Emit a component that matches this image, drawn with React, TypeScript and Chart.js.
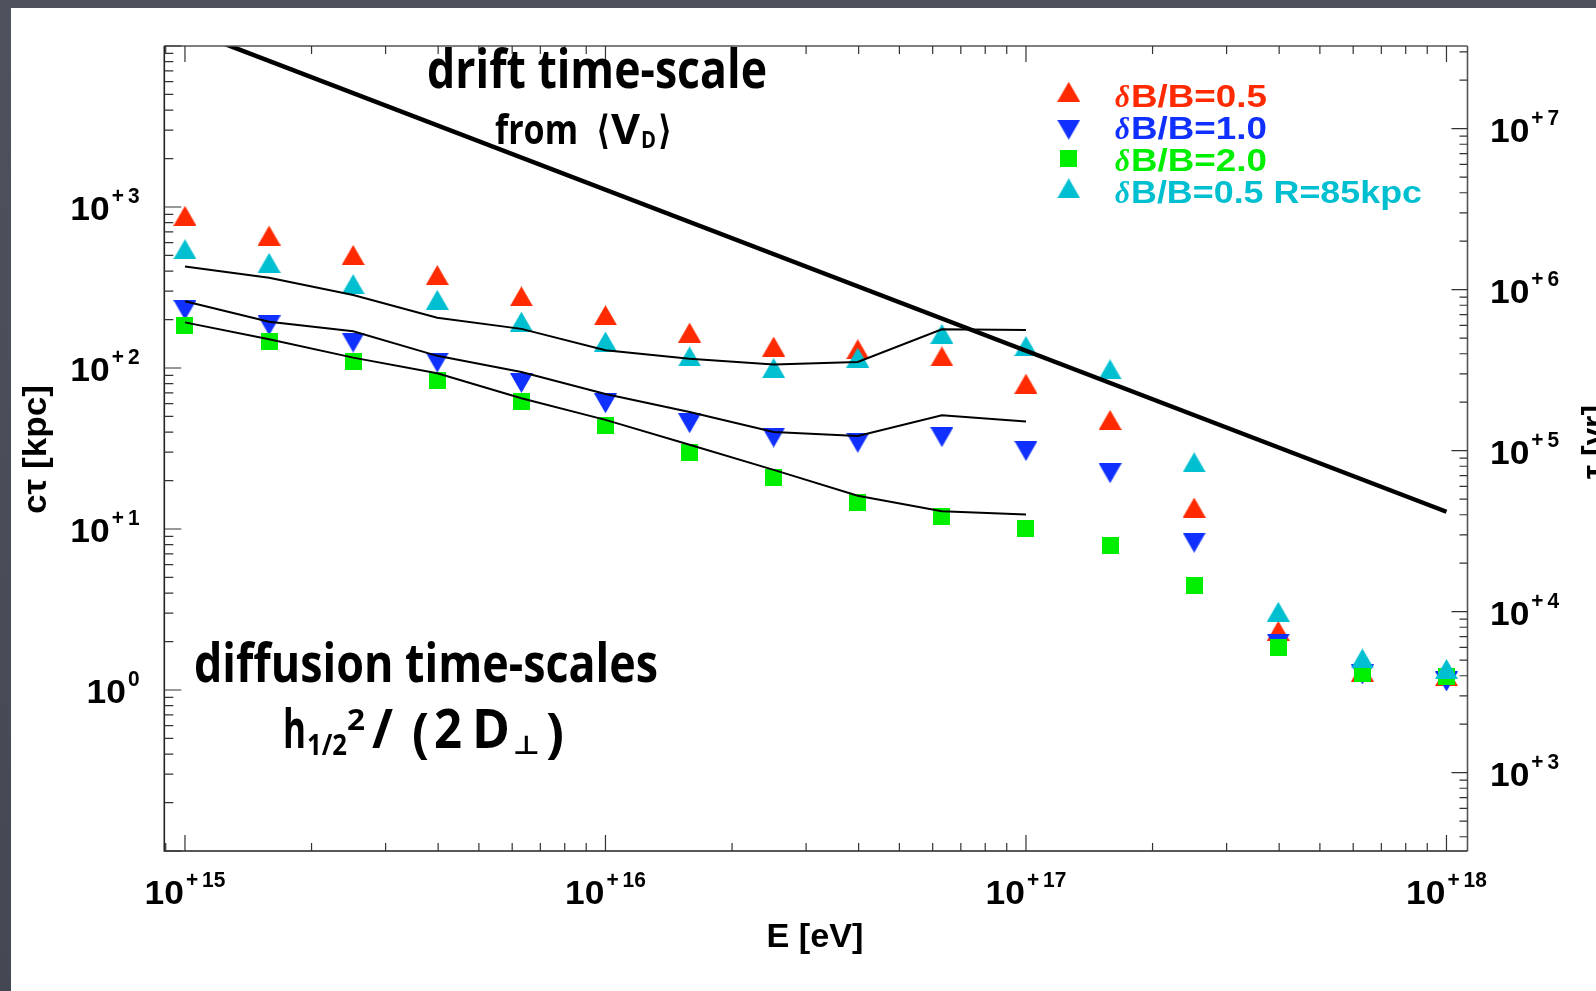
import React, { useEffect, useRef } from 'react';
import { Chart, registerables } from 'chart.js';

Chart.register(...registerables);

// ---------------- data ----------------
const energies = [
  1e15, 1.585e15, 2.512e15, 3.981e15, 6.31e15,
  1e16, 1.585e16, 2.512e16, 3.981e16, 6.31e16,
  1e17, 1.585e17, 2.512e17, 3.981e17, 6.31e17, 1e18,
];
// c*tau [kpc]
const ctauDB05 = [882, 665, 504, 378, 279, 213, 166, 136, 131, 118, 80.0, 47.6, 13.6, 2.33, 1.30, 1.22];
const ctauDB10 = [229, 184, 144, 108, 80.7, 60.4, 45.4, 37.0, 34.3, 37.2, 30.5, 22.2, 8.22, 1.94, 1.25, 1.13];
const ctauDB20 = [184, 147, 110, 84, 61.8, 44.2, 30.0, 20.9, 14.7, 12.0, 10.1, 7.85, 4.43, 1.83, 1.27, 1.21];
const ctauDB05R85 = [547, 450, 332, 265, 194, 146, 118, 100, 116, 163, 137, 98.2, 26.0, 3.06, 1.57, 1.35];
// thin analytic curves (first 11 energies)
const curveUpper = [427, 363, 284, 205, 175, 129, 114, 105, 109, 174, 172];
const curveMiddle = [260, 194, 169, 119, 94.4, 69, 53.3, 40.1, 37.8, 50.9, 46.5];
const curveLower = [192, 151, 116, 92.7, 64.9, 47.6, 33.4, 23.3, 16.1, 12.9, 12.3];
// drift time-scale line
const driftE = [1e15, 1e18];
const driftCT = [12800, 12.8];

// axes
const xMin = 8.93e14;
const xMax = 1.122e18;
const yMin = 0.1;
const yMax = 1e4;
const kpcToYr = 3261.56;
const xLabelExps = [15, 16, 17, 18];
const yLabelExps = [0, 1, 2, 3];
const yrLabelExps = [3, 4, 5, 6, 7];

const legendLabels = ['B/B=0.5', 'B/B=1.0', 'B/B=2.0', 'B/B=0.5 R=85kpc'];
const colRed = '#ff2a00';
const colBlue = '#1030ff';
const colGreen = '#00ee00';
const colCyan = '#00bfd0';

// ---------------- helpers ----------------
function makeMarker(shape: 'up' | 'down' | 'square', color: string): HTMLCanvasElement {
  const c = document.createElement('canvas');
  const w = shape === 'square' ? 17 : 23;
  const h = shape === 'square' ? 17 : 20;
  c.width = w;
  c.height = h;
  const g = c.getContext('2d')!;
  g.fillStyle = color;
  g.beginPath();
  if (shape === 'up') {
    g.moveTo(0, h); g.lineTo(w, h); g.lineTo(w / 2, 0);
  } else if (shape === 'down') {
    g.moveTo(0, 0); g.lineTo(w, 0); g.lineTo(w / 2, h);
  } else {
    g.rect(0, 0, w, h);
  }
  g.closePath();
  g.fill();
  return c;
}

function textFit(ctx: CanvasRenderingContext2D, text: string, x: number, y: number, font: string,
  opts: { width?: number; sx?: number; align?: 'left' | 'right' | 'center'; color?: string } = {}) {
  ctx.save();
  ctx.font = font;
  ctx.fillStyle = opts.color || '#000';
  ctx.textAlign = 'left';
  ctx.textBaseline = 'alphabetic';
  const w = ctx.measureText(text).width;
  const s = opts.width ? opts.width / w : (opts.sx ?? 1);
  const tw = w * s;
  const al = opts.align || 'left';
  const x0 = al === 'left' ? x : al === 'right' ? x - tw : x - tw / 2;
  ctx.translate(x0, y);
  ctx.scale(s, 1);
  ctx.fillText(text, 0, 0);
  ctx.restore();
  return tw;
}

const AX_FONT = "bold 34px 'Liberation Sans', Arial, sans-serif";
const SUP_FONT = "bold 22px 'Liberation Sans', Arial, sans-serif";
const AX_SX = 1.04;
const SUP_SX = 0.95;

function drawPow(ctx: CanvasRenderingContext2D, exp: number, x: number, yBase: number, align: 'left' | 'right' | 'center') {
  ctx.save();
  ctx.font = AX_FONT;
  const w10 = ctx.measureText('10').width * AX_SX;
  ctx.font = SUP_FONT;
  const sign = exp === 0 ? '' : exp > 0 ? '+' : '-';
  const num = String(Math.abs(exp));
  const wSign = sign ? ctx.measureText(sign).width * SUP_SX : 0;
  const wNum = ctx.measureText(num).width * SUP_SX;
  const gap1 = 2;
  const gap2 = sign ? 4 : 0;
  const total = w10 + gap1 + wSign + gap2 + wNum;
  ctx.restore();
  let x0 = align === 'left' ? x : align === 'right' ? x - total : x - total / 2;
  textFit(ctx, '10', x0, yBase, AX_FONT, { sx: AX_SX });
  x0 += w10 + gap1;
  if (sign) {
    textFit(ctx, sign, x0, yBase - 17, SUP_FONT, { sx: SUP_SX });
    x0 += wSign + gap2;
  }
  textFit(ctx, num, x0, yBase - 17, SUP_FONT, { sx: SUP_SX });
}

function logTicks(min: number, max: number) {
  const out: { v: number; major: boolean }[] = [];
  const d0 = Math.floor(Math.log10(min));
  const d1 = Math.ceil(Math.log10(max));
  for (let d = d0; d <= d1; d++) {
    for (let m = 1; m <= 9; m++) {
      const v = m * Math.pow(10, d);
      if (v >= min * 0.9999 && v <= max * 1.0001) out.push({ v, major: m === 1 });
    }
  }
  return out;
}

function pts(vals: number[]) {
  return vals.map((y, i) => ({ x: energies[i], y }));
}

// ---------------- component ----------------
export default function App() {
  const ref = useRef<HTMLCanvasElement>(null);

  useEffect(() => {
    document.body.style.margin = '0';
    document.body.style.overflow = 'hidden';
    const mUpRed = makeMarker('up', colRed);
    const mDownBlue = makeMarker('down', colBlue);
    const mSqGreen = makeMarker('square', colGreen);
    const mUpCyan = makeMarker('up', colCyan);

    const decor = {
      id: 'decor',
      beforeDraw(chart: any) {
        const ctx: CanvasRenderingContext2D = chart.ctx;
        ctx.save();
        const g = ctx.createLinearGradient(0, 0, 0, chart.height);
        g.addColorStop(0, '#4d525d');
        g.addColorStop(1, '#444852');
        ctx.fillStyle = g;
        ctx.fillRect(0, 0, chart.width, chart.height);
        ctx.fillStyle = '#ffffff';
        ctx.fillRect(11, 8, chart.width - 11, chart.height - 8);
        ctx.restore();
      },
      afterDraw(chart: any) {
        const ctx: CanvasRenderingContext2D = chart.ctx;
        const a = chart.chartArea;
        const sx = chart.scales.x;
        const sy = chart.scales.y;
        const sy2 = chart.scales.y2;

        // frame
        ctx.save();
        ctx.lineWidth = 1.6;
        ctx.strokeStyle = '#555';
        ctx.beginPath();
        ctx.moveTo(a.left, a.top); ctx.lineTo(a.right, a.top);
        ctx.moveTo(a.right, a.top); ctx.lineTo(a.right, a.bottom);
        ctx.stroke();
        ctx.strokeStyle = '#222';
        ctx.beginPath();
        ctx.moveTo(a.left, a.top); ctx.lineTo(a.left, a.bottom); ctx.lineTo(a.right, a.bottom);
        ctx.stroke();

        // ticks
        ctx.lineWidth = 1.2;
        ctx.strokeStyle = '#333';
        ctx.beginPath();
        for (const t of logTicks(xMin, xMax)) {
          const px = sx.getPixelForValue(t.v);
          const L = t.major ? 16 : 8;
          ctx.moveTo(px, a.bottom); ctx.lineTo(px, a.bottom - L);
          ctx.moveTo(px, a.top); ctx.lineTo(px, a.top + L);
        }
        for (const t of logTicks(yMin, yMax)) {
          const py = sy.getPixelForValue(t.v);
          const L = t.major ? 17 : 9;
          ctx.moveTo(a.left, py); ctx.lineTo(a.left + L, py);
        }
        for (const t of logTicks(yMin * kpcToYr, yMax * kpcToYr)) {
          const py = sy2.getPixelForValue(t.v);
          const L = t.major ? 16 : 8;
          ctx.moveTo(a.right, py); ctx.lineTo(a.right - L, py);
        }
        ctx.stroke();
        ctx.restore();

        // tick labels
        for (const e of xLabelExps) {
          drawPow(ctx, e, sx.getPixelForValue(Math.pow(10, e)), 904, 'center');
        }
        for (const e of yLabelExps) {
          drawPow(ctx, e, 139.5, sy.getPixelForValue(Math.pow(10, e)) + 13, 'right');
        }
        for (const e of yrLabelExps) {
          drawPow(ctx, e, 1490, sy2.getPixelForValue(Math.pow(10, e)) + 13, 'left');
        }

        // axis titles
        const TITLE_FONT = "bold 33px 'Liberation Sans', Arial, sans-serif";
        textFit(ctx, 'E [eV]', 815, 947, TITLE_FONT, { width: 97, align: 'center' });
        ctx.save();
        ctx.translate(46, 449.5);
        ctx.rotate(-Math.PI / 2);
        textFit(ctx, 'c\u03c4 [kpc]', 0, 0, TITLE_FONT, { width: 129, align: 'center' });
        ctx.restore();
        ctx.save();
        ctx.translate(1605, 442);
        ctx.rotate(-Math.PI / 2);
        textFit(ctx, '\u03c4 [yr]', 0, 0, TITLE_FONT, { width: 74, align: 'center' });
        ctx.restore();

        // legend
        const legMarkers = [mUpRed, mDownBlue, mSqGreen, mUpCyan];
        const legColors = [colRed, colBlue, colGreen, colCyan];
        const markerY = [91.8, 129.7, 158.7, 188.3];
        const textBase = [107, 139, 170.5, 202.5];
        const textEnd = [1267, 1267, 1267, 1422];
        const LEG_FONT = "bold 32px 'Liberation Sans', Arial, sans-serif";
        const DELTA_FONT = "italic bold 32px 'Liberation Serif', 'DejaVu Serif', serif";
        for (let i = 0; i < 4; i++) {
          const m = legMarkers[i];
          ctx.drawImage(m, 1068.7 - m.width / 2, markerY[i] - m.height / 2);
          textFit(ctx, '\u03b4', 1115, textBase[i], DELTA_FONT, { width: 15, color: legColors[i] });
          textFit(ctx, legendLabels[i], 1131, textBase[i], LEG_FONT, { width: textEnd[i] - 1131, color: legColors[i] });
        }

        // annotations (chalk-like text)
        const BIG = "700 53px 'Open Sans', 'Noto Sans', sans-serif";
        const MED = "700 41px 'Open Sans', 'Noto Sans', sans-serif";
        const SUB = "700 24px 'Open Sans', 'Noto Sans', sans-serif";
        const SUB2 = "700 28px 'Open Sans', 'Noto Sans', sans-serif";
        const BRK = "bold 40px 'DejaVu Sans', sans-serif";
        textFit(ctx, 'drift time-scale', 427, 88, BIG, { width: 340 });
        textFit(ctx, 'from', 495, 144, MED, { width: 83 });
        textFit(ctx, '\u27e8', 596, 144, BRK, { width: 14 });
        textFit(ctx, 'V', 611, 144, MED, { width: 29 });
        textFit(ctx, 'D', 641, 148, SUB, { width: 15 });
        textFit(ctx, '\u27e9', 658, 144, BRK, { width: 14 });

        textFit(ctx, 'diffusion time-scales', 194, 682, BIG, { width: 464 });
        textFit(ctx, 'h', 283, 748, BIG, { width: 23 });
        textFit(ctx, '1/2', 307, 755, SUB2, { width: 40 });
        textFit(ctx, '2', 347, 730, SUB2, { width: 18 });
        textFit(ctx, '/', 372, 748, BIG, { width: 21 });
        textFit(ctx, '(', 412, 752, BIG, { width: 17 });
        textFit(ctx, '2', 434, 748, BIG, { width: 28 });
        textFit(ctx, 'D', 472, 748, BIG, { width: 38 });
        textFit(ctx, '\u22a5', 513, 754, "bold 26px 'DejaVu Sans', sans-serif", { width: 27 });
        textFit(ctx, ')', 546, 752, BIG, { width: 18 });
      },
    };

    const markerDs = (label: string, vals: number[], img: HTMLCanvasElement, order: number) => ({
      label,
      data: pts(vals),
      showLine: false,
      pointStyle: img,
      pointRadius: 10,
      pointHoverRadius: 10,
      borderColor: 'rgba(0,0,0,0)',
      backgroundColor: 'rgba(0,0,0,0)',
      order,
    });
    const lineDs = (label: string, data: { x: number; y: number }[], width: number) => ({
      label,
      data,
      borderColor: '#000',
      borderWidth: width,
      pointRadius: 0,
      fill: false,
      tension: 0,
      order: 0,
    });

    const chart = new Chart(ref.current!, {
      type: 'line',
      data: {
        datasets: [
          markerDs('dB/B=0.5', ctauDB05, mUpRed, 4),
          markerDs('dB/B=1.0', ctauDB10, mDownBlue, 3),
          markerDs('dB/B=2.0', ctauDB20, mSqGreen, 2),
          markerDs('dB/B=0.5 R=85kpc', ctauDB05R85, mUpCyan, 1),
          lineDs('upper', pts(curveUpper), 2),
          lineDs('middle', pts(curveMiddle), 2),
          lineDs('lower', pts(curveLower), 2),
          lineDs('drift', driftE.map((x, i) => ({ x, y: driftCT[i] })), 4.5),
        ] as any,
      },
      options: {
        animation: false,
        responsive: false,
        maintainAspectRatio: false,
        events: [],
        layout: { padding: { top: 46, left: 0, right: 0, bottom: 0 } },
        plugins: { legend: { display: false }, tooltip: { enabled: false }, title: { display: false } },
        scales: {
          x: {
            type: 'logarithmic', position: 'bottom', min: xMin, max: xMax,
            grid: { display: false }, border: { display: false }, ticks: { display: false },
            afterFit: (s: any) => { s.height = 140; },
          },
          y: {
            type: 'logarithmic', position: 'left', min: yMin, max: yMax,
            grid: { display: false }, border: { display: false }, ticks: { display: false },
            afterFit: (s: any) => { s.width = 164.3; },
          },
          y2: {
            type: 'logarithmic', position: 'right', min: yMin * kpcToYr, max: yMax * kpcToYr,
            grid: { display: false }, border: { display: false }, ticks: { display: false },
            afterFit: (s: any) => { s.width = 128.5; },
          },
        },
      } as any,
      plugins: [decor],
    });
    return () => chart.destroy();
  }, []);

  return (
    <div style={{ position: 'absolute', left: 0, top: 0, width: 1596, height: 991 }}>
      <canvas ref={ref} width={1596} height={991} style={{ display: 'block', width: 1596, height: 991 }} />
    </div>
  );
}
